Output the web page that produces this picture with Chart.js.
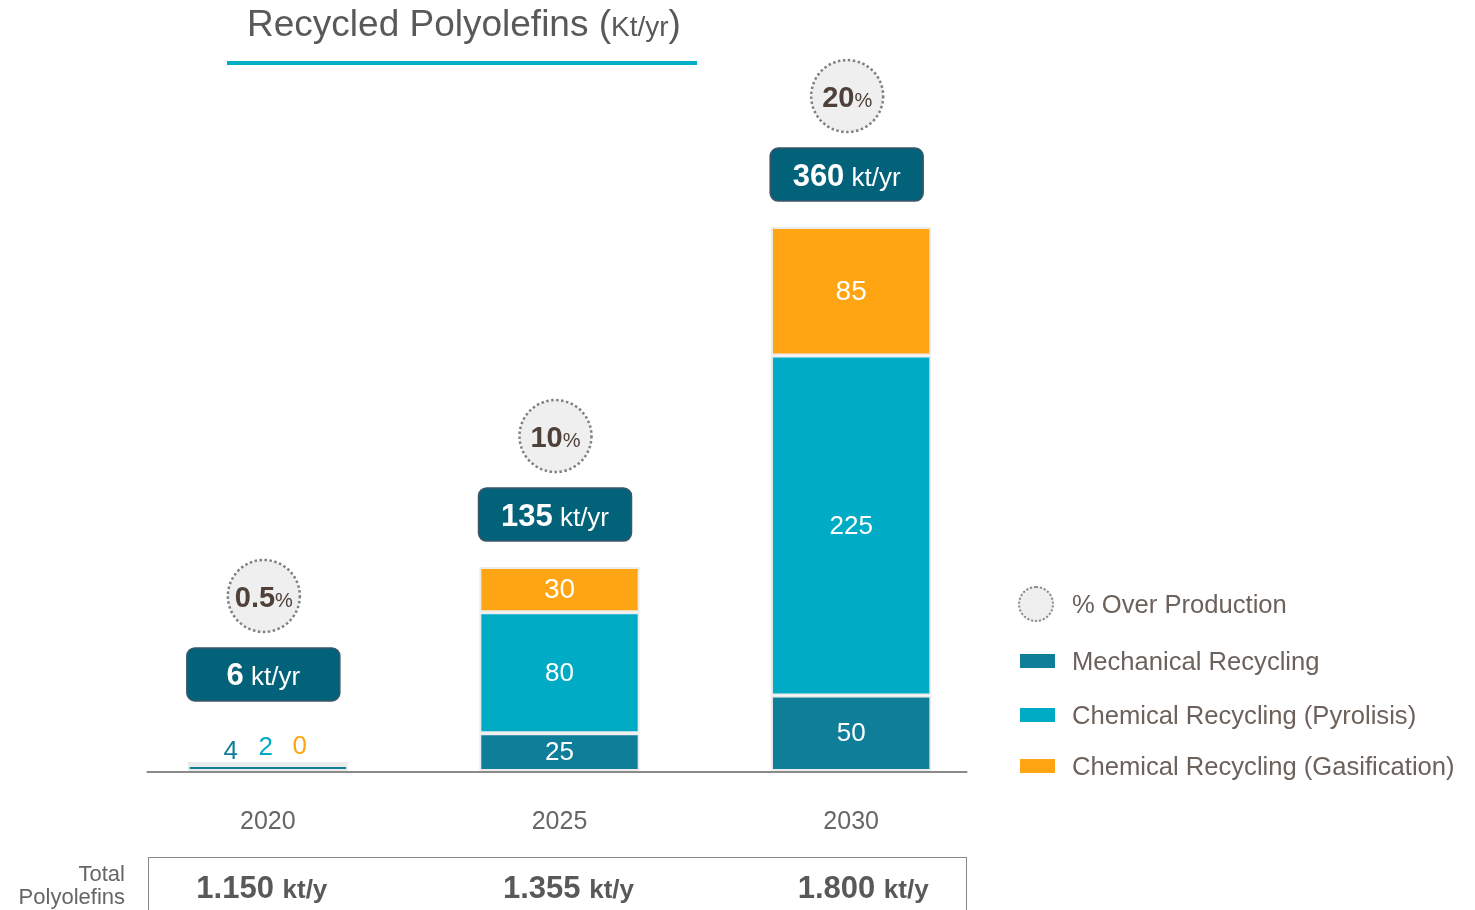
<!DOCTYPE html>
<html>
<head>
<meta charset="utf-8">
<script src="https://cdn.jsdelivr.net/npm/chart.js@4.4.1/dist/chart.umd.min.js"></script>
<style>
  body { margin: 0; background: #fff; font-family: "Liberation Sans", Arial, sans-serif; }
  #wrap { position: relative; width: 1475px; height: 910px; overflow: hidden; }
  #chart { position: absolute; left: 0; top: 0; }
  .title { position: absolute; left: 229px; width: 470px; top: 1px; text-align: center; color: #595959; font-size: 37px; line-height: 46px; }
  .title small { font-size: 28px; }
  .title-line { position: absolute; left: 227px; top: 61px; width: 470px; height: 4px; background: #00aec7; }
  .legend { position: absolute; left: 1018px; top: 583px; color: #6d625b; font-size: 25.6px; }
  .legend div { position: relative; height: 30px; line-height: 30px; padding-left: 54px; }
  .legend .sw { position: absolute; left: 2px; top: 8px; width: 35px; height: 14px; }
  .legend .ring { position: absolute; left: 0; top: -3px; width: 36px; height: 36px; border-radius: 50%; border: 2px dotted #888; background: #efefef; box-sizing: border-box; }
  .total-label { position: absolute; right: 1350px; top: 862px; text-align: right; color: #666; font-size: 22px; line-height: 23px; }
  .total-box { position: absolute; left: 148px; top: 857px; width: 817px; height: 80px; border: 1px solid #888; }
  .total-val { position: absolute; top: 870px; color: #595959; font-weight: bold; font-size: 31px; transform: translateX(-50%); white-space: nowrap; }
  .total-val span { font-size: 26px; }
</style>
</head>
<body>
<div id="wrap">
  <canvas id="chart" width="1475" height="910"></canvas>
  <div class="title">Recycled Polyolefins (<small>Kt/yr</small>)</div>
  <div class="title-line"></div>
  <div class="legend" id="legend"></div>
  <div class="total-label">Total<br>Polyolefins</div>
  <div class="total-box"></div>
  <div id="totals"></div>
</div>
<script>
const years = ["2020", "2025", "2030"];
const mechanical = [4, 25, 50];
const pyrolysis = [2, 80, 225];
const gasification = [0, 30, 85];
const totalRecycled = [6, 135, 360];
const shareOverProduction = ["0.5", "10", "20"];
const totalPolyolefins = ["1.150", "1.355", "1.800"];

const mechColor = "#0e7e99";
const pyroColor = "#00acc5";
const gasColor = "#ffa412";
const legendNames = ["% Over Production", "Mechanical Recycling", "Chemical Recycling (Pyrolisis)", "Chemical Recycling (Gasification)"];

// legend
var legend = document.getElementById("legend");
var tops = [6, 63, 117, 168];
legendNames.forEach(function (name, i) {
  var row = document.createElement("div");
  row.style.position = "absolute";
  row.style.top = tops[i] + "px";
  row.style.whiteSpace = "nowrap";
  if (i === 0) {
    row.innerHTML = '<span class="ring"></span>' + name;
  } else {
    var c = [mechColor, pyroColor, gasColor][i - 1];
    row.innerHTML = '<span class="sw" style="background:' + c + '"></span>' + name;
  }
  legend.appendChild(row);
});

const font = "'Liberation Sans', Arial, sans-serif";

function drawMixed(ctx, parts, cx, cy) {
  // parts: [text, font, color]
  var w = 0;
  parts.forEach(function (p) { ctx.font = p[1]; p.w = ctx.measureText(p[0]).width; w += p.w; });
  var x = cx - w / 2;
  ctx.textAlign = "left";
  ctx.textBaseline = "alphabetic";
  parts.forEach(function (p) {
    ctx.font = p[1];
    ctx.fillStyle = p[2];
    ctx.fillText(p[0], x, cy);
    x += p.w;
  });
}

const annotations = {
  id: "annotations",
  afterDatasetsDraw(chart) {
    var ctx = chart.ctx;
    var area = chart.chartArea;
    var metas = [0, 1, 2].map(function (d) { return chart.getDatasetMeta(d); });
    var colors = [mechColor, pyroColor, gasColor];
    ctx.save();

    // baseline
    var first = metas[0].data[0], last = metas[0].data[years.length - 1];
    ctx.strokeStyle = "#8a8a8a";
    ctx.lineWidth = 2;
    ctx.beginPath();
    ctx.moveTo(first.x - first.width / 2 - 41, area.bottom + 1);
    ctx.lineTo(last.x + last.width / 2 + 36, area.bottom + 1);
    ctx.stroke();

    years.forEach(function (yr, i) {
      var x = metas[0].data[i].x;
      var top = Math.min.apply(null, metas.map(function (m) { return m.data[i].y; }));
      var small = false;
      var smallOffsets = [[-37, -3], [-2, -7], [32, -8]];
      metas.forEach(function (m, d) {
        var el = m.data[i];
        var v = chart.data.datasets[d].data[i];
        var h = el.base - el.y;
        ctx.textAlign = "center";
        ctx.textBaseline = "middle";
        if (h > 20) {
          ctx.font = (d === 2 ? "28px " : "26px ") + font;
          ctx.fillStyle = "#ffffff";
          ctx.fillText(String(v), x, (el.y + el.base) / 2 + 1);
        } else {
          small = true;
          ctx.textBaseline = "alphabetic";
          ctx.font = "26px " + font;
          ctx.fillStyle = colors[d];
          ctx.fillText(String(v), x + smallOffsets[d][0], top + smallOffsets[d][1]);
        }
      });

      var anchor = small ? top - 35 : top;
      // value box
      var bw = 153, bh = 53;
      var bx = x - 81, by = anchor - 26 - bh;
      ctx.beginPath();
      ctx.roundRect(bx, by, bw, bh, 8);
      ctx.fillStyle = "#02627a";
      ctx.fill();
      ctx.lineWidth = 1.5;
      ctx.strokeStyle = "#3c5668";
      ctx.stroke();
      drawMixed(ctx, [
        [String(totalRecycled[i]), "bold 31px " + font, "#ffffff"],
        [" kt/yr", "26px " + font, "#ffffff"]
      ], bx + bw / 2, by + bh / 2 + 11);

      // share circle
      var cy = by - 52, cx = x - 4, r = 36;
      ctx.beginPath();
      ctx.arc(cx, cy, r, 0, Math.PI * 2);
      ctx.fillStyle = "#efefef";
      ctx.fill();
      ctx.setLineDash([2.5, 2.5]);
      ctx.lineWidth = 2.5;
      ctx.strokeStyle = "#808080";
      ctx.stroke();
      ctx.setLineDash([]);
      drawMixed(ctx, [
        [shareOverProduction[i], "bold 29px " + font, "#4f4039"],
        ["%", "20px " + font, "#4f4039"]
      ], cx, cy + 11);
    });
    ctx.restore();

    // totals row, placed under each category
    var holder = document.getElementById("totals");
    holder.innerHTML = "";
    var shifts = [-6, 9, 12];
    years.forEach(function (yr, i) {
      var d = document.createElement("div");
      d.className = "total-val";
      d.style.left = (metas[0].data[i].x + shifts[i]) + "px";
      d.innerHTML = totalPolyolefins[i] + " <span>kt/y</span>";
      holder.appendChild(d);
    });
  }
};

var ctx = document.getElementById("chart").getContext("2d");
var chart = new Chart(ctx, {
  type: "bar",
  data: {
    labels: years,
    datasets: [
      { label: legendNames[1], data: mechanical, backgroundColor: mechColor },
      { label: legendNames[2], data: pyrolysis, backgroundColor: pyroColor },
      { label: legendNames[3], data: gasification, backgroundColor: gasColor }
    ]
  },
  options: {
    responsive: false,
    animation: false,
    datasets: {
      bar: {
        barPercentage: 0.55,
        categoryPercentage: 1,
        borderWidth: 2,
        borderColor: "#ebebeb",
        borderSkipped: false
      }
    },
    layout: { padding: { left: 122, right: 478, top: 76, bottom: 37 } },
    scales: {
      x: {
        stacked: true,
        grid: { display: false, drawTicks: false },
        border: { display: false },
        ticks: { color: "#666666", padding: 36, font: { family: font, size: 25 } }
      },
      y: {
        stacked: true,
        display: false,
        min: 0,
        max: 460
      }
    },
    plugins: {
      legend: { display: false },
      tooltip: { enabled: false }
    }
  },
  plugins: [annotations]
});
</script>
</body>
</html>
